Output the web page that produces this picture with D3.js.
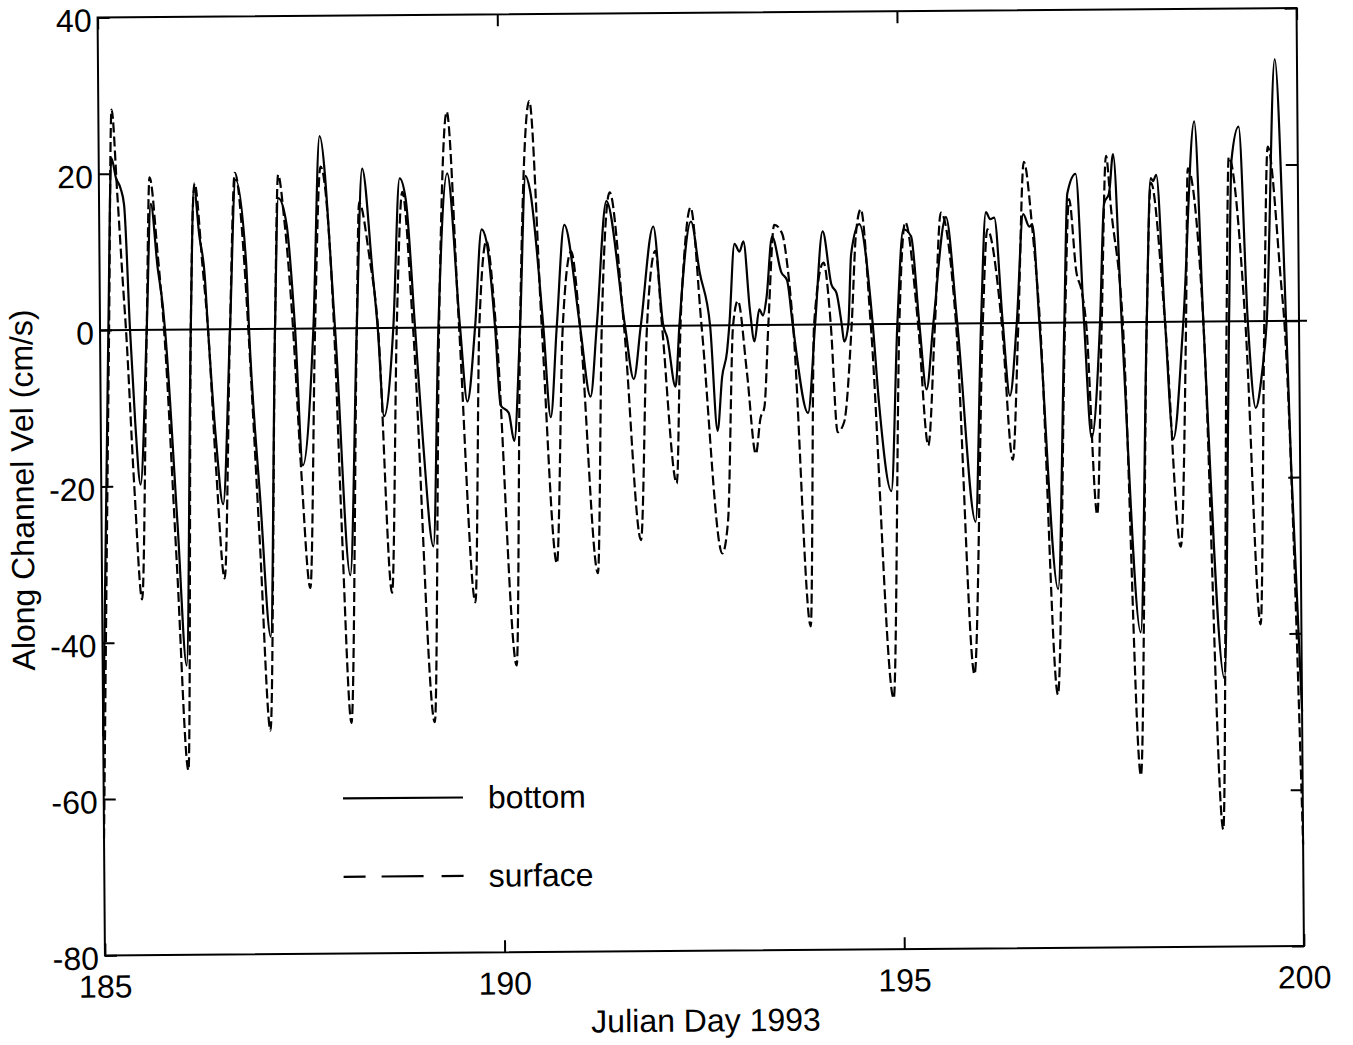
<!DOCTYPE html>
<html>
<head>
<meta charset="utf-8">
<script src="https://cdn.jsdelivr.net/npm/d3@7"></script>
<style>
  body { margin: 0; background: #fff; }
  svg { display: block; }
  text { font-family: "Liberation Sans", Arial, Helvetica, sans-serif; fill: #000; }
</style>
</head>
<body>
<svg id="chart" width="1353" height="1045"></svg>
<script>
// ---------- data ----------
const seriesNames = ["bottom", "surface"];
const xTickValues = [185, 190, 195, 200];
const yTickValues = [40, 20, 0, -20, -40, -60, -80];
const xTitle = "Julian Day 1993";
const yTitle = "Along Channel Vel (cm/s)";

const bottomDay = [185.000,185.104,185.159,185.213,185.271,185.313,185.375,185.432,185.492,185.584,
185.647,185.726,185.788,185.813,185.951,186.051,186.135,186.189,186.251,186.314,
186.351,186.439,186.523,186.626,186.710,186.835,186.864,186.989,187.106,187.189,
187.243,187.343,187.440,187.524,187.669,187.765,187.940,188.107,188.212,188.294,
188.416,188.474,188.544,188.669,188.762,188.837,188.941,189.029,189.150,189.233,
189.358,189.504,189.588,189.692,189.783,189.842,189.942,190.004,190.105,190.171,
190.255,190.338,190.392,190.546,190.630,190.714,190.818,191.005,191.130,191.214,
191.347,191.568,191.672,191.765,191.931,192.047,192.094,192.194,192.248,192.403,
192.507,192.632,192.716,192.778,192.841,192.873,192.945,193.007,193.057,193.132,
193.186,193.249,193.295,193.341,193.416,193.529,193.599,193.666,193.849,193.946,
194.049,194.154,194.217,194.279,194.308,194.362,194.404,194.508,194.667,194.737,
194.884,194.975,195.059,195.155,195.250,195.334,195.425,195.593,195.725,195.935,
196.022,196.093,196.147,196.197,196.294,196.376,196.469,196.560,196.635,196.673,
196.752,196.961,197.064,197.114,197.219,197.311,197.394,197.511,197.573,197.636,
197.690,197.782,197.990,198.095,198.158,198.187,198.228,198.324,198.416,198.553,
198.708,198.803,199.033,199.125,199.171,199.263,199.359,199.450,199.534,199.597,
199.722,199.838,199.888,200.000];
const bottomVel = [-52,0,22.0,19.5,18.1,16,0,-12,-19.8,0,
16.1,8,3,0,-25,-43,0,18.1,12,7,
0,-14,-22.4,0,19.1,8.3,0,-22,-39.4,0,
16.7,13.4,0,-17.5,0,24.6,0,-31.6,0,20.4,
7,0,-11.3,0,19.1,16.4,0,-14.5,-28,0,
19.7,0,-9.5,0,12.5,11,0,-10,-11,-14.6,
0,19.3,17.5,0,-11.6,0,13.0,0,-9.0,0,
16,0,-6.8,0,12.7,0,-1.5,-7.8,0,13.3,
6.8,0,-13.5,-6.6,-3.4,0,10.4,9.4,10.7,1.9,
-2.1,2,1.2,3.5,11.3,6.7,5.7,0,-11.3,0,
11.9,5.1,4,0,-2.2,0,9,12.8,0,-10,
-21.4,0,12.1,11.2,0,-8.4,0,13.6,0,-25.4,
0,14.2,13.3,13.5,0,-9.3,0,13.9,12.3,12.6,
0,-34.1,0,16.5,19.0,0,-14.8,0,15.2,16.5,
21.5,0,-39.7,0,18.4,18.0,18.8,0,-15,0,
25.6,0,-45.7,0,20.6,24.9,0,-11.1,-6.5,0,
33.5,0,-18.7,-50];

const surfaceDay = [185.000,185.113,185.166,185.229,185.292,185.325,185.413,185.500,185.584,185.634,
185.729,185.801,185.938,186.063,186.135,186.197,186.289,186.351,186.439,186.535,
186.626,186.702,186.814,186.855,186.977,187.093,187.189,187.243,187.315,187.415,
187.502,187.606,187.690,187.774,187.928,188.003,188.107,188.212,188.253,188.378,
188.478,188.628,188.712,188.795,188.916,189.150,189.241,189.358,189.492,189.670,
189.745,189.842,189.954,190.180,190.255,190.392,190.526,190.693,190.789,190.901,
191.005,191.205,191.277,191.389,191.555,191.747,191.843,191.956,192.031,192.200,
192.262,192.316,192.400,192.525,192.763,192.838,192.920,192.983,193.088,193.192,
193.254,193.304,193.361,193.445,193.541,193.611,193.670,193.862,193.933,194.058,
194.142,194.217,194.300,194.404,194.467,194.529,194.642,194.893,195.000,195.084,
195.234,195.350,195.446,195.530,195.709,195.906,196.044,196.110,196.281,196.406,
196.489,196.573,196.673,196.760,196.948,197.073,197.135,197.219,197.282,197.336,
197.457,197.532,197.602,197.657,197.795,197.978,198.095,198.161,198.324,198.499,
198.587,198.623,198.803,199.003,199.094,199.137,199.328,199.491,199.566,199.625,
199.782,199.816,200.000];
const surfaceVel = [-65,0,28.2,17.4,5.7,0,-20,-34.5,0,19.5,
9.6,0,-30,-56.4,0,18.7,8,0,-18,-31.9,
0,20.0,8,0,-27,-51.4,0,19.7,14,0,
-18,-33.2,0,20.7,0,-25,-50.5,0,16.1,9,
0,-33.9,0,17.4,0,-50.5,0,27.6,0,-35.2,
0,11,0,-43.3,0,28.9,0,-30.3,0,9.6,
0,-31.6,0,17.1,0,-27.4,0,9.6,0,-20.2,
0,9,15.1,0,-29.2,-25,0,3.1,-6,-16.5,
-11.9,-10.5,0,12.8,11.7,7,0,-38.6,0,7.9,
0,-13.8,-12.5,0,11.7,14.7,0,-47.9,0,13.0,
0,-15.6,0,14.2,0,-44.9,0,12,0,-17.5,
0,20.6,12,0,-47.6,0,15.8,6.5,4.1,0,
-24.6,0,21.3,14.8,0,-58.0,0,17.8,0,-28.8,
0,19.6,0,-65,0,21.0,0,-38.8,0,22.3,
4.5,0,-67];

// ---------- layout ----------
const W = 1353, H = 1045;
const plot = { left: 101.25, right: 1300.25, top: 12.75, bottom: 950.75 };
const FONT = 32;

const x = d3.scaleLinear().domain([185, 200]).range([plot.left, plot.right]);
const y = d3.scaleLinear().domain([-80, 40]).range([plot.bottom, plot.top]);

const svg = d3.select("#chart");
svg.append("rect").attr("width", W).attr("height", H).attr("fill", "#fff");

// whole scanned figure is slightly rotated
const g = svg.append("g").attr("transform", "rotate(-0.45 700.75 481.75)");

// frame
g.append("rect")
  .attr("x", x(185)).attr("y", y(40))
  .attr("width", x(200) - x(185)).attr("height", y(-80) - y(40))
  .attr("fill", "none").attr("stroke", "#000").attr("stroke-width", 2);

// axes with inward ticks
const fmt = d => String(d);
const gx = g.append("g").attr("transform", `translate(0,${plot.bottom})`)
  .call(d3.axisBottom(x).tickValues(xTickValues).tickSizeInner(-12).tickSizeOuter(0).tickFormat(fmt));
gx.selectAll("text").attr("y", 31).attr("dy", "0.35em");

g.append("g").attr("transform", `translate(0,${plot.top})`)
  .call(d3.axisTop(x).tickValues(xTickValues).tickSizeInner(-12).tickSizeOuter(0).tickFormat(""));

const gy = g.append("g").attr("transform", `translate(${plot.left},0)`)
  .call(d3.axisLeft(y).tickValues(yTickValues).tickSizeInner(-12).tickSizeOuter(0).tickFormat(fmt));
gy.selectAll("text").attr("x", -6).attr("y", 2.5).attr("dy", "0.35em");

g.append("g").attr("transform", `translate(${plot.right},0)`)
  .call(d3.axisRight(y).tickValues(yTickValues).tickSizeInner(-12).tickSizeOuter(0).tickFormat(""));

g.selectAll(".domain").remove();
g.selectAll(".tick line").attr("stroke", "#000").attr("stroke-width", 2);
g.selectAll(".tick text")
  .style("font-family", '"Liberation Sans", Arial, sans-serif')
  .style("font-size", FONT + "px").attr("fill", "#000");

// zero line (extends a little past the right frame, as in the original)
g.append("line")
  .attr("x1", x(185)).attr("x2", x(200.1))
  .attr("y1", y(0)).attr("y2", y(0))
  .attr("stroke", "#000").attr("stroke-width", 2);

// series
const line = d3.line().x(d => x(d[0])).y(d => y(d[1])).curve(d3.curveMonotoneX);
const bottomData = d3.zip(bottomDay, bottomVel);
const surfaceData = d3.zip(surfaceDay, surfaceVel);

g.append("path").datum(surfaceData)
  .attr("d", line).attr("fill", "none").attr("stroke", "#000")
  .attr("stroke-width", 2.2).attr("stroke-dasharray", "10,4");

g.append("path").datum(bottomData)
  .attr("d", line).attr("fill", "none").attr("stroke", "#000")
  .attr("stroke-width", 2.2);

// axis titles
g.append("text")
  .attr("x", 701.8).attr("y", 1031.5)
  .attr("text-anchor", "middle").style("font-size", FONT + "px")
  .text(xTitle);

g.append("text")
  .attr("transform", "translate(33.5,484.7) rotate(-90)")
  .attr("text-anchor", "middle").style("font-size", FONT + "px")
  .text(yTitle);

// legend
const legend = g.append("g");
const legendRows = [
  { name: seriesNames[0], y: 795.6, dash: null },
  { name: seriesNames[1], y: 874.0, dash: "22,16,42,18,22,200" }
];
legendRows.forEach(r => {
  legend.append("line")
    .attr("x1", 340.5).attr("x2", 460.5).attr("y1", r.y).attr("y2", r.y)
    .attr("stroke", "#000").attr("stroke-width", 2.2)
    .attr("stroke-dasharray", r.dash);
  legend.append("text")
    .attr("x", 485.5).attr("y", r.y + 11)
    .style("font-size", FONT + "px")
    .text(r.name);
});
</script>
</body>
</html>
